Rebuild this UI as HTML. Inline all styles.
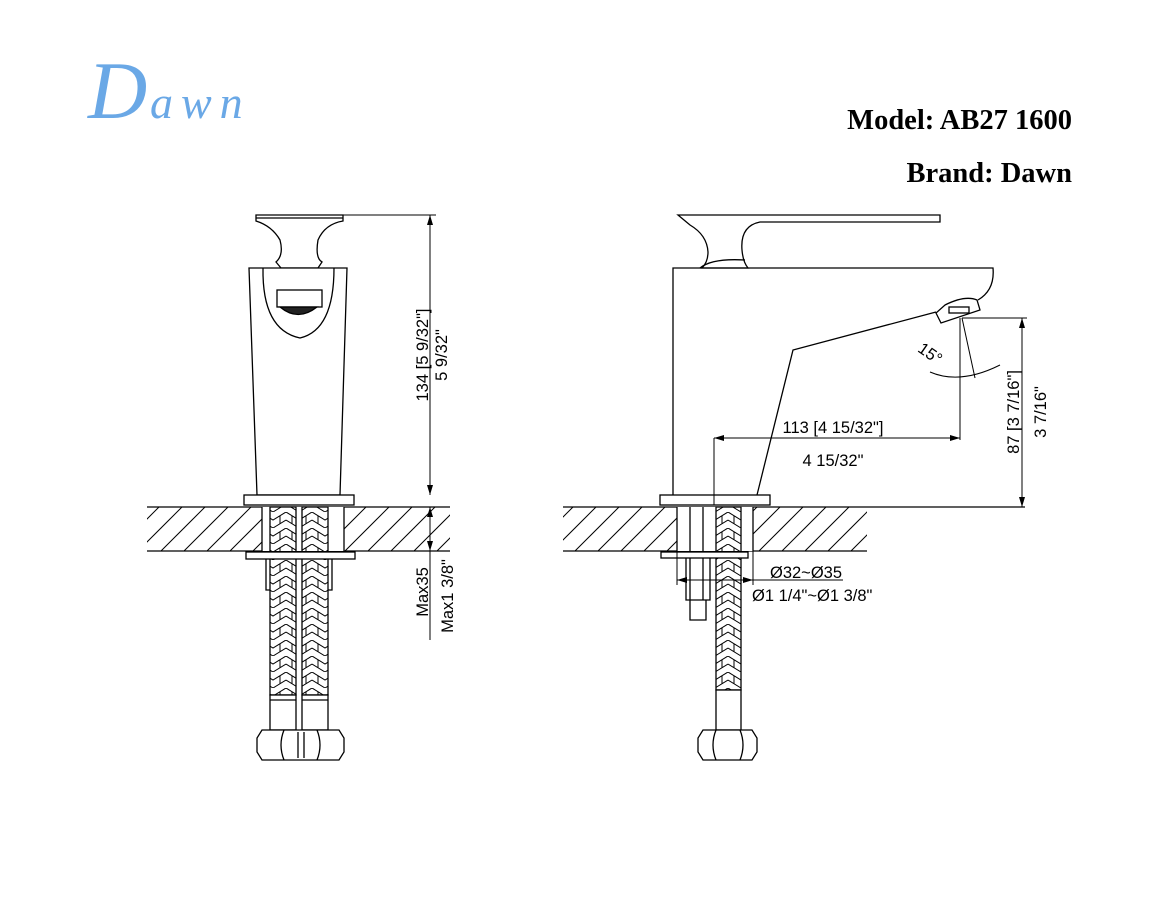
<!DOCTYPE html>
<html><head><meta charset="utf-8"><style>
html,body{margin:0;padding:0;background:#fff;}
svg{display:block;}
</style></head><body>
<svg width="1170" height="906" viewBox="0 0 1170 906" xmlns="http://www.w3.org/2000/svg">
<defs>
<pattern id="hatch" patternUnits="userSpaceOnUse" width="23" height="44" x="0" y="507">
<line x1="-23" y1="44" x2="21" y2="0" stroke="#000" stroke-width="1"/>
<line x1="0" y1="44" x2="44" y2="0" stroke="#000" stroke-width="1"/>
</pattern>
<pattern id="braid" patternUnits="userSpaceOnUse" width="26" height="16">
<path d="M0 0 L13 8 L26 0 M0 8 L13 16 L26 8 M6 4 L6 12 M20 4 L20 12" stroke="#000" stroke-width="1" fill="none"/>
</pattern>
<marker id="ar" viewBox="0 0 10 6" refX="10" refY="3" markerWidth="10" markerHeight="6" orient="auto-start-reverse" markerUnits="userSpaceOnUse">
<path d="M0 0 L10 3 L0 6 z" fill="#000"/>
</marker>
</defs>

<g fill="#6aa8e6" font-family="Liberation Serif, serif" font-style="italic">
<text x="88" y="118" font-size="82">D</text>
<text x="150" y="118" font-size="46" letter-spacing="8">awn</text>
</g>

<g font-family="Liberation Serif, serif" font-weight="bold" font-size="28.5" text-anchor="end">
<text x="1072" y="129">Model: AB27 1600</text>
<text x="1072" y="182">Brand: Dawn</text>
</g>

<g stroke="#000" stroke-width="1.3" fill="none">
<rect x="147" y="507" width="303" height="44" fill="url(#hatch)" stroke="none"/>
<line x1="147" y1="507" x2="450" y2="507"/><line x1="147" y1="551" x2="450" y2="551"/>
<rect x="262" y="507" width="82" height="44" fill="#fff" stroke="none"/>
<line x1="262" y1="507" x2="262" y2="551"/><line x1="344" y1="507" x2="344" y2="551"/>
<path d="M256 215 L343 215 L343 221 Q325 224 318 240 Q315 258 322 262 L318 268 L281 268 L276 262 Q284 255 280 240 Q272 226 256 221 Z" fill="#fff"/>
<line x1="256" y1="218" x2="343" y2="218"/>
<path d="M249 268 L347 268 L340 495 L257 495 Z" fill="#fff"/>
<path d="M263 268 Q262 330 300 338 Q334 330 334 268"/>
<rect x="277" y="290" width="45" height="17"/>
<path d="M280 307 Q298 322 317 307 Z" fill="#222"/>
<rect x="244" y="495" width="110" height="10" fill="#fff"/>
<rect x="270" y="507" width="26" height="188" fill="url(#braid)"/>
<rect x="302" y="507" width="26" height="188" fill="url(#braid)"/>
<rect x="246" y="552" width="109" height="7" fill="#fff"/>
<path d="M266 559 L266 590 L270 590 M332 559 L332 590 L328 590"/>
<rect x="270" y="695" width="26" height="35" fill="#fff"/>
<rect x="302" y="695" width="26" height="35" fill="#fff"/>
<line x1="270" y1="700" x2="296" y2="700"/><line x1="302" y1="700" x2="328" y2="700"/>
<path d="M262 730 L339 730 L344 738 L344 752 L339 760 L262 760 L257 752 L257 738 Z" fill="#fff"/>
<path d="M284 730 Q278 745 284 760 M317 730 Q323 745 317 760 M298 732 L298 758 M304 732 L304 758"/>
<line x1="343" y1="215" x2="436" y2="215" stroke-width="1"/>
<line x1="430" y1="215" x2="430" y2="495" stroke-width="1" marker-start="url(#ar)" marker-end="url(#ar)"/>
<line x1="430" y1="507" x2="430" y2="551" stroke-width="1" marker-start="url(#ar)" marker-end="url(#ar)"/>
<line x1="430" y1="551" x2="430" y2="640" stroke-width="1"/>

<rect x="563" y="507" width="304" height="44" fill="url(#hatch)" stroke="none"/>
<line x1="563" y1="507" x2="1025" y2="507"/><line x1="563" y1="551" x2="867" y2="551"/>
<rect x="677" y="507" width="76" height="44" fill="#fff" stroke="none"/>
<line x1="677" y1="507" x2="677" y2="551"/><line x1="753" y1="507" x2="753" y2="551"/>
<path d="M678 215 L940 215 L940 222 L760 222 Q740 226 742 250 Q743 262 748 268 L702 268 Q708 262 708 252 Q707 235 690 225 Z" fill="#fff"/>
<path d="M700 268 Q712 258 745 260"/>
<path d="M673 495 L673 268 L993 268 Q995 290 978 300 M936 312 L793 350 L757 495"/>
<path d="M936 313 L941 323 L980 310 L977 300 Q965 295 945 305 Z" fill="#fff"/>
<rect x="949" y="307" width="20" height="6"/>
<rect x="660" y="495" width="110" height="10" fill="#fff"/>
<line x1="690" y1="507" x2="690" y2="551"/><line x1="703" y1="507" x2="703" y2="551"/>
<rect x="716" y="507" width="25" height="183" fill="url(#braid)"/>
<rect x="661" y="552" width="87" height="6" fill="#fff"/>
<path d="M686 558 L686 600 L710 600 L710 558 M690 600 L690 620 L706 620 L706 600"/>
<line x1="690" y1="558" x2="690" y2="600"/><line x1="703" y1="558" x2="703" y2="600"/>
<rect x="716" y="690" width="25" height="40" fill="#fff"/>
<path d="M703 730 L752 730 L757 738 L757 752 L752 760 L703 760 L698 752 L698 738 Z" fill="#fff"/>
<path d="M716 730 Q710 745 716 760 M740 730 Q746 745 740 760"/>
<line x1="677" y1="551" x2="677" y2="585" stroke-width="1"/>
<line x1="753" y1="551" x2="753" y2="585" stroke-width="1"/>
<line x1="677" y1="580" x2="753" y2="580" stroke-width="1" marker-start="url(#ar)" marker-end="url(#ar)"/>
<line x1="753" y1="580" x2="843" y2="580" stroke-width="1"/>
<line x1="962" y1="318" x2="1027" y2="318" stroke-width="1"/>
<line x1="1022" y1="318" x2="1022" y2="507" stroke-width="1" marker-start="url(#ar)" marker-end="url(#ar)"/>
<line x1="960" y1="318" x2="960" y2="440" stroke-width="1"/>
<line x1="962" y1="318" x2="975" y2="378" stroke-width="1"/>
<path d="M930 372 Q960 385 1000 365" stroke-width="1"/>
<line x1="714" y1="438" x2="714" y2="505" stroke-width="1"/>
<line x1="714" y1="438" x2="960" y2="438" stroke-width="1" marker-start="url(#ar)" marker-end="url(#ar)"/>
</g>

<g font-family="Liberation Sans, sans-serif" font-size="16.5" fill="#000">
<text transform="translate(428,355) rotate(-90)" text-anchor="middle">134 [5 9/32"]</text>
<text transform="translate(447,355) rotate(-90)" text-anchor="middle">5 9/32"</text>
<text transform="translate(428,592) rotate(-90)" text-anchor="middle">Max35</text>
<text transform="translate(453,596) rotate(-90)" text-anchor="middle">Max1 3/8"</text>
<text x="833" y="433" text-anchor="middle">113 [4 15/32"]</text>
<text x="833" y="466" text-anchor="middle">4 15/32"</text>
<text transform="translate(1019,412) rotate(-90)" text-anchor="middle">87 [3 7/16"]</text>
<text transform="translate(1046,412) rotate(-90)" text-anchor="middle">3 7/16"</text>
<text transform="translate(927,358) rotate(35)" text-anchor="middle">15°</text>
<text x="770" y="578">Ø32~Ø35</text>
<text x="752" y="601">Ø1 1/4"~Ø1 3/8"</text>
</g>
</svg>
</body></html>
